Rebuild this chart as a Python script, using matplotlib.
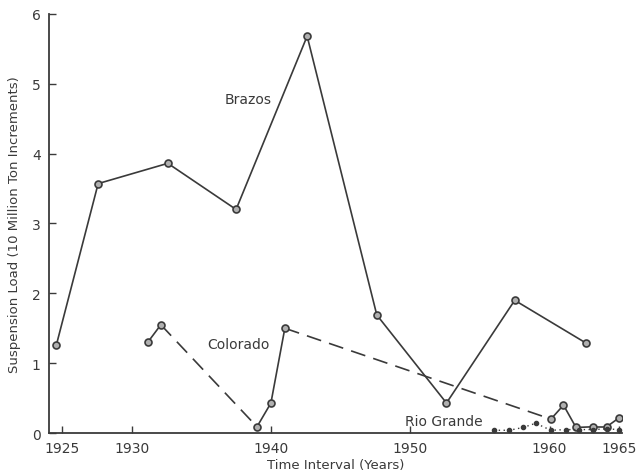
#! /usr/bin/env python3

import matplotlib
matplotlib.use('Agg')
import matplotlib.pyplot as plt

# Brazos river, solid line
brazos_years = [1924.6, 1927.6, 1932.6, 1937.5, 1942.6, 1947.6, 1952.6, 1957.5, 1962.6]
brazos_load = [1.26, 3.57, 3.86, 3.20, 5.68, 1.69, 0.43, 1.90, 1.29]

# Colorado river, solid/dashed pieces
colorado_years = [1931.2, 1932.1, 1939.0, 1940.0, 1941.0, 1960.1, 1961.0, 1961.9, 1963.1, 1964.1, 1965.0]
colorado_load = [1.31, 1.55, 0.09, 0.43, 1.50, 0.20, 0.40, 0.08, 0.09, 0.09, 0.22]
# which segment (start index) is dashed
colorado_dashed = [1, 4]

# Rio Grande, dotted line
rio_years = [1956.0, 1957.1, 1958.1, 1959.0, 1960.1, 1961.2, 1962.1, 1963.1, 1964.1, 1965.0]
rio_load = [0.04, 0.04, 0.08, 0.14, 0.04, 0.05, 0.05, 0.05, 0.06, 0.05]

xticks = [1925, 1930, 1940, 1950, 1960, 1965]
yticks = [0, 1, 2, 3, 4, 5, 6]

ink = '#3a3a3a'
mk = dict(marker='o', markersize=5, markerfacecolor='#b0b0b0', markeredgecolor=ink, markeredgewidth=1.2)

fig = plt.figure(figsize=(6.36, 4.77), dpi=100)
ax = fig.add_axes([0.077, 0.090, 0.901, 0.879])

ax.plot(brazos_years, brazos_load, color=ink, lw=1.2, **mk)

for i in range(len(colorado_years) - 1):
    ls = (0, (9, 5)) if i in colorado_dashed else '-'
    ax.plot(colorado_years[i:i + 2], colorado_load[i:i + 2], color=ink, lw=1.2, linestyle=ls)
ax.plot(colorado_years, colorado_load, linestyle='none', **mk)

ax.plot(rio_years, rio_load, color=ink, lw=1.0, linestyle=(0, (1, 2.5)),
        marker='o', markersize=3, markerfacecolor=ink, markeredgecolor=ink)

ax.text(1938.4, 4.78, 'Brazos', color=ink, fontsize=10, ha='center', va='center')
ax.text(1937.7, 1.27, 'Colorado', color=ink, fontsize=10, ha='center', va='center')
ax.text(1952.4, 0.17, 'Rio Grande', color=ink, fontsize=10, ha='center', va='center')

ax.set_xlim(1924.07, 1965.2)
ax.set_ylim(0, 6)
ax.set_xticks(xticks)
ax.set_yticks(yticks)
ax.tick_params(direction='in', length=5, width=1, color=ink, labelcolor=ink, labelsize=10, pad=6)
for s in ['top', 'right']:
    ax.spines[s].set_visible(False)
for s in ['left', 'bottom']:
    ax.spines[s].set_color(ink)
    ax.spines[s].set_linewidth(1.3)

ax.set_ylabel('Suspension Load (10 Million Ton Increments)', color=ink, fontsize=9.5, labelpad=8)
ax.set_xlabel('Time Interval (Years)', color=ink, fontsize=9.5, labelpad=2)

plt.savefig('out.png', dpi=100)
